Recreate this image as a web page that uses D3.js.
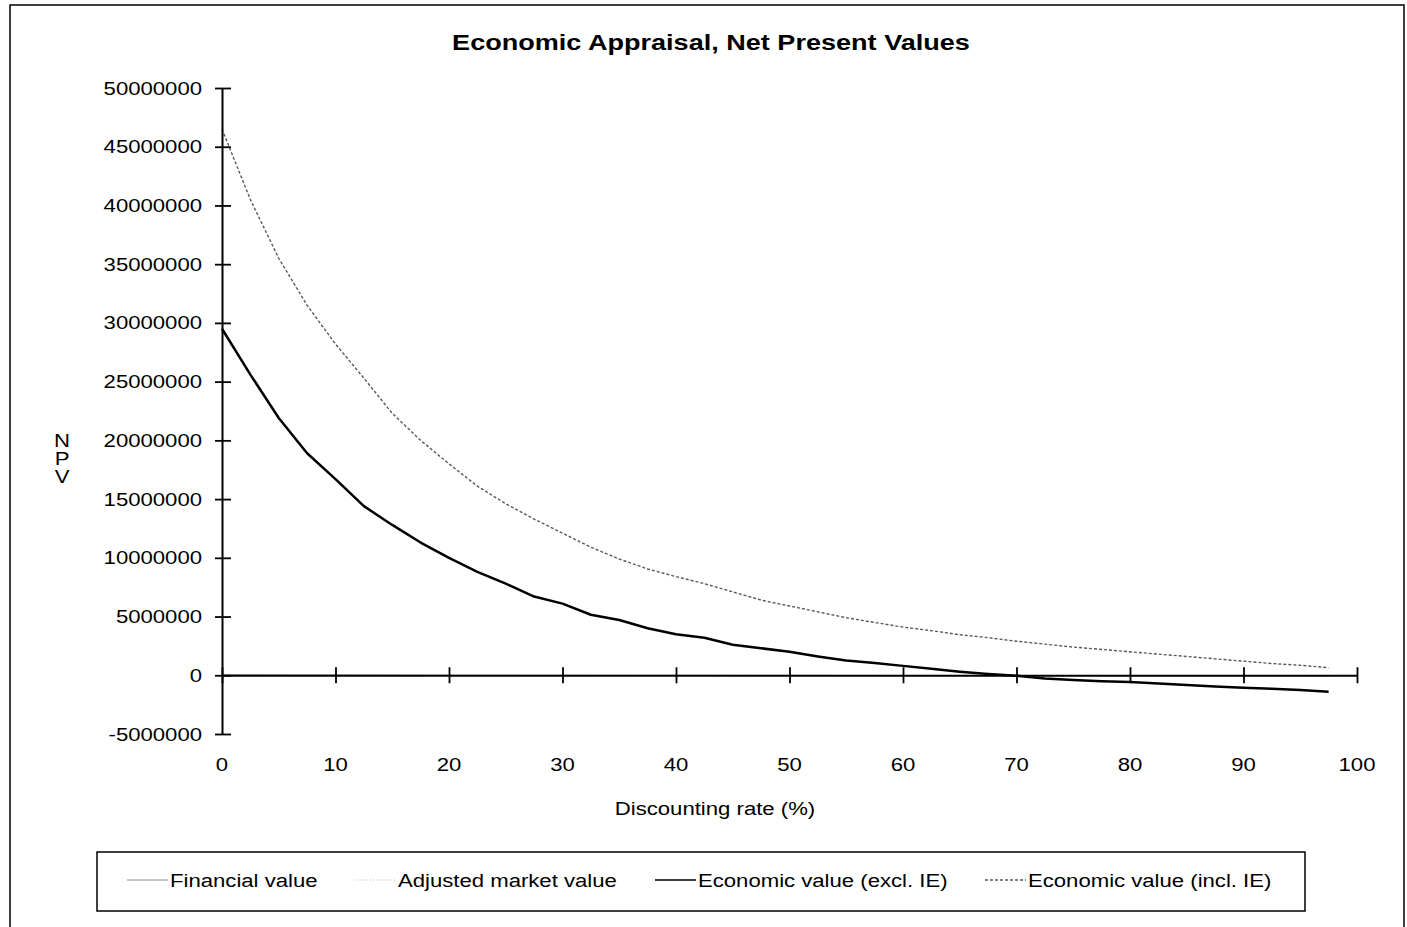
<!DOCTYPE html>
<html>
<head>
<meta charset="utf-8">
<script src="https://cdn.jsdelivr.net/npm/d3@7"></script>
<style>
  html, body { margin: 0; padding: 0; background: #fff; }
  svg { display: block; }
  text { font-family: "Liberation Sans", Arial, sans-serif; fill: #000; }
</style>
</head>
<body>
<svg id="chart" width="1407" height="927"></svg>
<script>
// Discount rates (%) at which NPV was computed
const rates = [0, 2.5, 5, 7.5, 10, 12.5, 15, 17.5, 20, 22.5, 25, 27.5, 30, 32.5, 35, 37.5, 40,
  42.5, 45, 47.5, 50, 52.5, 55, 57.5, 60, 62.5, 65, 67.5, 70, 72.5, 75, 77.5, 80, 82.5, 85,
  87.5, 90, 92.5, 95, 97.5];

// NPV series
const financialValue = [60000, 50000, 40000, 35000, 30000, 25000, 20000, 15000, 10000, 8000,
  6000, 4000, 2000, 0, -2000, -4000, -5000, -6000, -8000, -10000, -12000, -14000, -16000,
  -18000, -20000, -22000, -24000, -26000, -28000, -30000, -32000, -34000, -36000, -38000,
  -40000, -42000, -44000, -46000, -48000, -50000];
const adjustedMarketValue = [40000, 35000, 30000, 25000, 20000, 15000, 12000, 10000, 8000,
  6000, 5000, 4000, 3000, 2000, 1000, 0, -1000, -2000, -3000, -4000, -5000, -6000, -7000,
  -8000, -9000, -10000, -11000, -12000, -13000, -14000, -15000, -16000, -17000, -18000,
  -19000, -20000, -21000, -22000, -23000, -24000];
const economicExclIE = [29500000, 25600000, 21900000, 18900000, 16700000, 14400000, 12800000,
  11300000, 10000000, 8800000, 7800000, 6700000, 6100000, 5150000, 4700000, 4000000, 3500000,
  3200000, 2600000, 2300000, 2000000, 1600000, 1250000, 1050000, 800000, 550000, 300000,
  100000, -50000, -280000, -400000, -500000, -580000, -700000, -820000, -950000, -1070000,
  -1150000, -1250000, -1400000];
const economicInclIE = [46500000, 40500000, 35500000, 31500000, 28200000, 25300000, 22300000,
  20000000, 18000000, 16100000, 14600000, 13300000, 12100000, 10900000, 9900000, 9050000,
  8400000, 7800000, 7100000, 6400000, 5900000, 5400000, 4900000, 4500000, 4100000, 3800000,
  3450000, 3200000, 2900000, 2650000, 2400000, 2200000, 2000000, 1800000, 1600000, 1400000,
  1200000, 1000000, 850000, 650000];

// Axis ticks
const xTicks = [0, 10, 20, 30, 40, 50, 60, 70, 80, 90, 100];
const yTicks = [-5000000, 0, 5000000, 10000000, 15000000, 20000000, 25000000, 30000000,
  35000000, 40000000, 45000000, 50000000];

const seriesNames = ["Financial value", "Adjusted market value",
  "Economic value (excl. IE)", "Economic value (incl. IE)"];
const seriesValues = [financialValue, adjustedMarketValue, economicExclIE, economicInclIE];

const styles = [
  { stroke: "#8a8a8a", width: 1, dash: null },
  { stroke: "#b5b5b5", width: 1, dash: "1,2" },
  { stroke: "#000", width: 2.5, dash: null },
  { stroke: "#5a5a5a", width: 1.4, dash: "3,2" }
];

const svg = d3.select("#chart");
const SX = 1.23; // horizontal stretch applied to all text

function label(x, y, txt, opts = {}) {
  return svg.append("text")
    .attr("transform", `translate(${x},${y}) scale(${SX},1)`)
    .attr("text-anchor", opts.anchor || "start")
    .style("font-size", (opts.size || 18) + "px")
    .style("font-weight", opts.weight || "normal")
    .text(txt);
}

// outer frame
svg.append("rect")
  .attr("x", 10).attr("y", 5).attr("width", 1394).attr("height", 940)
  .attr("fill", "none").attr("stroke", "#000").attr("stroke-width", 1.5);

const x = d3.scaleLinear().domain([0, 100]).range([222, 1357]);
const y = d3.scaleLinear().domain([-5000000, 50000000]).range([734, 88]);

// title
label(711, 50, "Economic Appraisal, Net Present Values", { anchor: "middle", size: 22, weight: "bold" });

// series lines
const line = d3.line().x((d, i) => x(rates[i])).y(d => y(d));
seriesValues.forEach((vals, k) => {
  svg.append("path")
    .datum(vals)
    .attr("d", line)
    .attr("fill", "none")
    .attr("stroke", styles[k].stroke)
    .attr("stroke-width", styles[k].width)
    .attr("stroke-dasharray", styles[k].dash)
    .attr("stroke-linejoin", "round");
});

// y axis with ticks crossing the axis line
const yAxis = svg.append("g")
  .attr("transform", `translate(${x(0)},0)`)
  .call(d3.axisLeft(y).tickValues(yTicks).tickSizeOuter(0).tickFormat(""));
yAxis.select(".domain").attr("stroke-width", 2);
yAxis.selectAll(".tick line").attr("x1", -7).attr("x2", 9).attr("stroke-width", 1.8);

// x axis drawn along NPV = 0
const xAxis = svg.append("g")
  .attr("transform", `translate(0,${y(0)})`)
  .call(d3.axisBottom(x).tickValues(xTicks).tickSizeOuter(0).tickFormat(""));
xAxis.select(".domain").attr("stroke-width", 2);
xAxis.selectAll(".tick line").attr("y1", -8).attr("y2", 8).attr("stroke-width", 1.8);

// tick labels
yTicks.forEach(v => label(202, y(v) + 6.5, String(v), { anchor: "end" }));
xTicks.forEach(v => label(x(v), 771, String(v), { anchor: "middle" }));

// axis titles
label(715, 815, "Discounting rate (%)", { anchor: "middle" });
["N", "P", "V"].forEach((ch, i) => label(62, 447 + i * 18, ch, { anchor: "middle" }));

// legend
svg.append("rect")
  .attr("x", 97).attr("y", 852).attr("width", 1208).attr("height", 59)
  .attr("fill", "none").attr("stroke", "#000").attr("stroke-width", 1.5);
const legendX = [127, 355, 655, 985];
seriesNames.forEach((name, k) => {
  svg.append("line")
    .attr("x1", legendX[k]).attr("x2", legendX[k] + 41)
    .attr("y1", 880).attr("y2", 880)
    .attr("stroke", styles[k].stroke)
    .attr("stroke-width", k === 2 ? 1.6 : styles[k].width)
    .attr("stroke-dasharray", styles[k].dash);
  label(legendX[k] + 43, 886.5, name);
});
</script>
</body>
</html>
